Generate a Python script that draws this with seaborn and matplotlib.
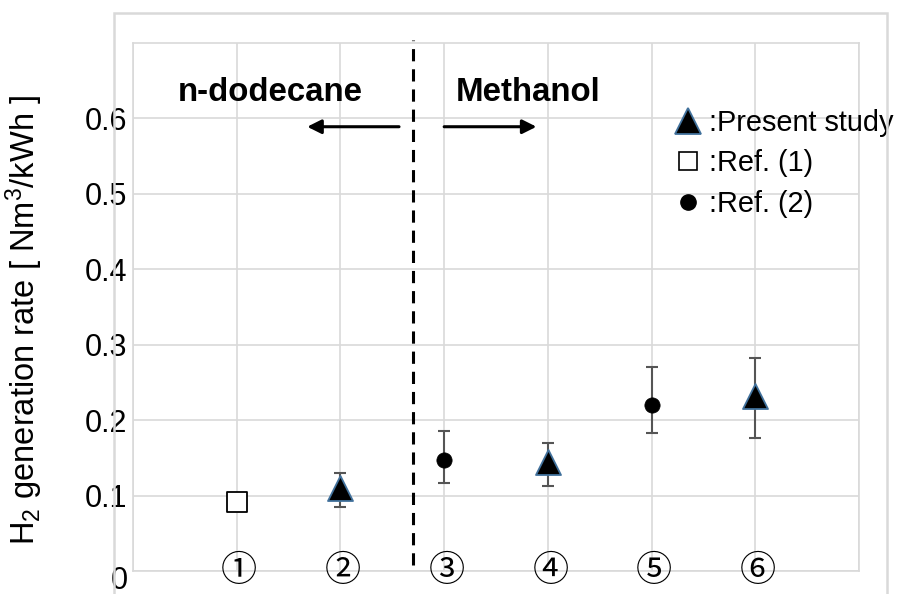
import pandas as pd
import seaborn as sns
import matplotlib.pyplot as plt
from matplotlib.lines import Line2D
from matplotlib.patches import Rectangle
from matplotlib.transforms import ScaledTranslation

# data
cases = [1, 2, 3, 4, 5, 6]
case_labels = ["①", "②", "③", "④", "⑤", "⑥"]
rate = [0.091, 0.110, 0.147, 0.144, 0.220, 0.232]
err_low = [0.0, 0.025, 0.030, 0.031, 0.037, 0.056]
err_high = [0.0, 0.020, 0.038, 0.026, 0.050, 0.051]
source = ["Ref. (1)", "Present study", "Ref. (2)", "Present study", "Ref. (2)", "Present study"]
y_ticks = [0, 0.1, 0.2, 0.3, 0.4, 0.5, 0.6]
y_tick_labels = ["0", "0.1", "0.2", "0.3", "0.4", "0.5", "0.6"]

df = pd.DataFrame({"case": cases, "rate": rate, "lo": err_low, "hi": err_high, "source": source})

sns.set_theme(style="whitegrid")
plt.rcParams['font.family'] = ['Liberation Sans', 'DejaVu Sans']
plt.rcParams['mathtext.default'] = 'regular'
plt.rcParams['text.color'] = 'black'
plt.rcParams['axes.labelcolor'] = 'black'
plt.rcParams['ytick.color'] = 'black'

fig = plt.figure(figsize=(8.98, 5.94), dpi=100)
ax = fig.add_axes([0.1481, 0.0387, 0.8085, 0.8889])

# outer chart frame (Excel style)
fig.patches.append(Rectangle((0.127, -0.05), 0.861, 1.028, transform=fig.transFigure,
                             fill=False, edgecolor='#d9d9d9', lw=1.8))

# error bars first so markers sit on top
ax.errorbar(df["case"], df["rate"], yerr=[df["lo"], df["hi"]], fmt='none',
            ecolor='#555555', elinewidth=1.5, capsize=4.5, capthick=1.5, zorder=3)

styles = {
    "Present study": dict(marker='^', s=18 ** 2, color='black', edgecolor='#41719c', linewidth=1.3),
    "Ref. (1)": dict(marker='s', s=15 ** 2, color='white', edgecolor='black', linewidth=1.3),
    "Ref. (2)": dict(marker='o', s=11 ** 2, color='black', edgecolor='black', linewidth=0.5),
}
for src, st in styles.items():
    sns.scatterplot(data=df[df["source"] == src], x="case", y="rate", ax=ax, zorder=4,
                    legend=False, **st)

# circled case numbers along the bottom
for c, lab in zip(cases, case_labels):
    ax.text(c + 0.025, 0.0, lab, ha='center', va='center', fontsize=26,
            family=['Noto Sans CJK JP', 'DejaVu Sans'], color='black', zorder=5)

# divider between fuels
ax.axvline(2.7, ymin=0.012, ymax=1.006, color='black', lw=2.2,
           linestyle=(0, (4, 2.6)), clip_on=False, zorder=5)
arrow = dict(arrowstyle='-|>,head_length=0.6,head_width=0.3', lw=2.2, color='black',
             mutation_scale=14, shrinkA=0, shrinkB=0)
ax.annotate('', xy=(1.68, 0.589), xytext=(2.565, 0.589), arrowprops=arrow)
ax.annotate('', xy=(3.89, 0.589), xytext=(3.0, 0.589), arrowprops=arrow)
ax.text(1.32, 0.634, "n-dodecane", ha='center', va='center', fontsize=23.8, fontweight='bold')
ax.text(3.81, 0.634, "Methanol", ha='center', va='center', fontsize=23.8, fontweight='bold')

# legend in the Excel "marker :label" style
handles = [
    Line2D([], [], marker='^', ls='none', ms=19, mfc='black', mec='#41719c', mew=1.3),
    Line2D([], [], marker='s', ls='none', ms=13, mfc='white', mec='black', mew=1.2),
    Line2D([], [], marker='o', ls='none', ms=11, mfc='black', mec='black'),
]
labels = [":" + s for s in ["Present study", "Ref. (1)", "Ref. (2)"]]
ax.legend(handles, labels, loc='center left', bbox_to_anchor=(0.745, 0.772), frameon=False,
          fontsize=20.8, handlelength=1.0, handletextpad=0.22, borderpad=0, borderaxespad=0,
          labelspacing=0.44)

ax.set_xlim(0, 7)
ax.set_ylim(0, 0.7)
ax.set_xticks(range(0, 8))
ax.set_xticklabels([])
ax.set_yticks(y_ticks)
ax.set_yticklabels(y_tick_labels)
ax.tick_params(axis='y', labelsize=22, pad=4, length=0, labelcolor='black')
ax.tick_params(axis='x', length=0)
for t in ax.get_yticklabels():
    t.set_family(['Liberation Sans', 'DejaVu Sans'])
# the "0" label sits a little below its gridline in the reference
zero = ax.get_yticklabels()[0]
zero.set_transform(zero.get_transform() + ScaledTranslation(0, -0.06, fig.dpi_scale_trans))
ax.grid(True, color='#d9d9d9', lw=1.2)
for sp in ax.spines.values():
    sp.set_color('#d9d9d9')
    sp.set_linewidth(1.2)
ax.set_xlabel("")
ax.set_ylabel("H$_2$ generation rate [ Nm$^3$/kWh ]", fontsize=23.5, color='black')
ax.yaxis.set_label_coords(-0.121, 0.475)

fig.savefig("out.png", dpi=100)
